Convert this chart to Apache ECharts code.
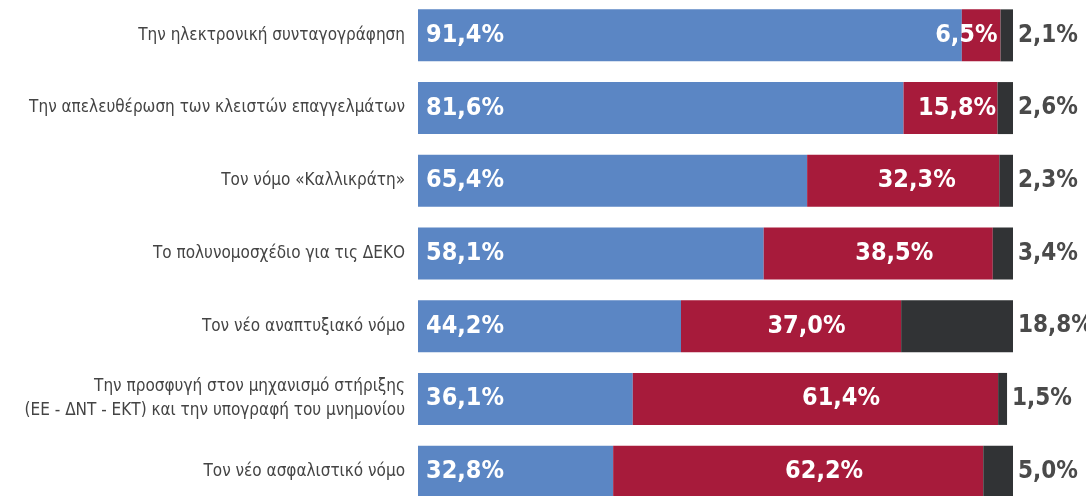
<!DOCTYPE html>
<html>
<head>
<meta charset="utf-8">
<script src="https://cdn.jsdelivr.net/npm/echarts@6/dist/echarts.min.js"></script>
<style>
html,body{margin:0;padding:0;background:#fff;}
#chart{width:1086px;height:496px;}
</style>
</head>
<body>
<div id="chart"></div>
<script>
const categories = [
  "Την ηλεκτρονική συνταγογράφηση",
  "Την απελευθέρωση των κλειστών επαγγελμάτων",
  "Τον νόμο «Καλλικράτη»",
  "Το πολυνομοσχέδιο για τις ΔΕΚΟ",
  "Τον νέο αναπτυξιακό νόμο",
  "Την προσφυγή στον μηχανισμό στήριξης\n(ΕΕ - ΔΝΤ - ΕΚΤ) και την υπογραφή του μνημονίου",
  "Τον νέο ασφαλιστικό νόμο"
];
const positive = [91.4, 81.6, 65.4, 58.1, 44.2, 36.1, 32.8];
const negative = [6.5, 15.8, 32.3, 38.5, 37.0, 61.4, 62.2];
const noAnswer = [2.1, 2.6, 2.3, 3.4, 18.8, 1.5, 5.0];

const fmt = v => v.toFixed(1).replace('.', ',') + '%';
const valueFont = '"DejaVu Sans Condensed", "Liberation Sans Narrow", sans-serif';

const chart = echarts.init(document.getElementById('chart'));
chart.setOption({
  backgroundColor: '#ffffff',
  animation: false,
  grid: { left: 418, right: 73, top: -1, height: 509, containLabel: false, outerBoundsMode: 'none' },
  xAxis: { type: 'value', min: 0, max: 100, show: false },
  yAxis: {
    type: 'category',
    data: categories,
    inverse: true,
    axisLine: { show: false },
    axisTick: { show: false },
    axisLabel: {
      margin: 13,
      color: '#444444',
      fontSize: 17,
      lineHeight: 24,
      fontFamily: valueFont,
      align: 'right'
    }
  },
  series: [
    {
      type: 'bar', stack: 'all', barWidth: 52,
      data: positive,
      itemStyle: { color: '#5b86c4' },
      label: {
        show: true, position: 'insideLeft', distance: 8,
        formatter: p => fmt(p.value),
        color: '#ffffff', fontWeight: 'bold', fontSize: 25, fontFamily: valueFont
      }
    },
    {
      type: 'bar', stack: 'all', barWidth: 52,
      data: negative.map((v, i) => ({
        value: v,
        label: i === 0
          ? { position: 'insideRight', distance: 3 }
          : { position: ['57%', '50%'], align: 'center', verticalAlign: 'middle' }
      })),
      itemStyle: { color: '#a71b3b' },
      label: {
        show: true,
        formatter: p => fmt(p.value),
        color: '#ffffff', fontWeight: 'bold', fontSize: 25, fontFamily: valueFont
      }
    },
    {
      type: 'bar', stack: 'all', barWidth: 52,
      data: noAnswer,
      itemStyle: { color: '#313335' },
      label: {
        show: true, position: 'right', distance: 5,
        formatter: p => fmt(p.value),
        color: '#4a4a4a', fontWeight: 'bold', fontSize: 24, fontFamily: valueFont
      }
    }
  ]
});
</script>
</body>
</html>
